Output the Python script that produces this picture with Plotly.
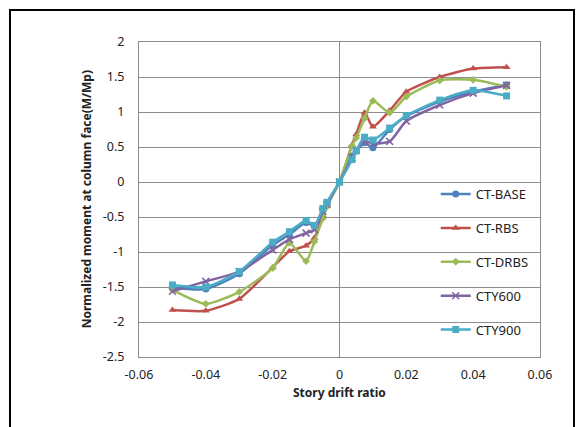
import plotly.graph_objects as go

drift = [-0.05, -0.04, -0.03, -0.02, -0.015, -0.01, -0.0075, -0.005, -0.00375, 0,
         0.00375, 0.005, 0.0075, 0.01, 0.015, 0.02, 0.03, 0.04, 0.05]

ct_base = [-1.51, -1.53, -1.31, -0.90, -0.75, -0.58, -0.63, -0.39, -0.30, 0,
           0.37, 0.44, 0.56, 0.49, 0.75, 0.94, 1.15, 1.29, 1.39]
ct_rbs = [-1.83, -1.84, -1.67, -1.22, -0.99, -0.91, -0.80, -0.48, -0.30, 0,
          0.53, 0.68, 0.99, 0.79, 1.02, 1.29, 1.50, 1.62, 1.64]
ct_drbs = [-1.54, -1.74, -1.57, -1.23, -0.87, -1.13, -0.85, -0.52, -0.35, 0,
           0.52, 0.63, 0.91, 1.16, 0.99, 1.22, 1.45, 1.46, 1.36]
cty600 = [-1.56, -1.42, -1.28, -0.97, -0.82, -0.73, -0.68, -0.42, -0.32, 0,
          0.35, 0.45, 0.58, 0.55, 0.58, 0.87, 1.10, 1.27, 1.38]
cty900 = [-1.47, -1.50, -1.28, -0.86, -0.71, -0.55, -0.62, -0.38, -0.29, 0,
          0.32, 0.45, 0.64, 0.60, 0.77, 0.95, 1.17, 1.31, 1.23]

series_names = ["CT-BASE", "CT-RBS", "CT-DRBS", "CTY600", "CTY900"]
series_values = [ct_base, ct_rbs, ct_drbs, cty600, cty900]

x_tickvals = [-0.06, -0.04, -0.02, 0, 0.02, 0.04, 0.06]
x_ticktext = ["-0.06", "-0.04", "-0.02", "0", "0.02", "0.04", "0.06"]
y_tickvals = [2, 1.5, 1, 0.5, 0, -0.5, -1, -1.5, -2, -2.5]
y_ticktext = ["2", "1.5", "1", "0.5", "0", "-0.5", "-1", "-1.5", "-2", "-2.5"]

x_title = "Story drift ratio"
y_title = "Normalized moment at column face(M/Mp)"

colors = ["#4F81BD", "#C0504D", "#9BBB59", "#8064A2", "#4BACC6"]
symbols = ["circle", "triangle-up", "diamond", "x-thin", "square"]
sizes = [7, 7, 6, 7, 7]

fig = go.Figure()
for i, (name, vals) in enumerate(zip(series_names, series_values)):
    marker = dict(symbol=symbols[i], size=sizes[i], color=colors[i])
    if symbols[i] == "x-thin":
        marker["line"] = dict(color=colors[i], width=1.5)
    fig.add_trace(go.Scatter(
        x=drift, y=vals, name=name, mode="lines+markers",
        line=dict(color=colors[i], width=2.5, shape="spline", smoothing=0.6),
        marker=marker, legendgroup=name,
    ))

grid = "#8C8C8C"
fig.update_layout(
    width=575, height=419,
    margin=dict(l=131, r=43, t=34, b=70),
    paper_bgcolor="white", plot_bgcolor="white",
    font=dict(family="Noto Sans, DejaVu Sans, sans-serif", size=12, color="#222222"),
    showlegend=True,
    legend=dict(x=0.74, xanchor="left", y=0.565, yanchor="top",
                traceorder="grouped", tracegroupgap=14,
                bgcolor="rgba(0,0,0,0)", font=dict(size=13, color="#222222")),
    xaxis=dict(range=[-0.06, 0.06], tickvals=x_tickvals, ticktext=x_ticktext,
               showgrid=False, zeroline=True, zerolinecolor=grid, zerolinewidth=1,
               showline=True, linecolor=grid, linewidth=1, mirror=True,
               ticks="outside", ticklen=6, tickcolor="rgba(0,0,0,0)",
               tickfont=dict(size=12.5)),
    yaxis=dict(range=[-2.5, 2], tickvals=y_tickvals, ticktext=y_ticktext,
               showgrid=True, gridcolor=grid, gridwidth=1, zeroline=False,
               showline=True, linecolor=grid, linewidth=1, mirror=True,
               ticks="outside", ticklen=11, tickcolor="rgba(0,0,0,0)",
               tickfont=dict(size=12.5)),
    annotations=[
        dict(text="<b>" + x_title + "</b>", xref="paper", yref="paper",
             x=0.5, y=-0.114, xanchor="center", yanchor="middle",
             showarrow=False, font=dict(size=12)),
        dict(text="<b>" + y_title + "</b>", xref="paper", yref="paper",
             x=-0.13, y=0.5, xanchor="center", yanchor="middle", textangle=-90,
             showarrow=False, font=dict(size=12)),
    ],
    shapes=[dict(type="rect", xref="paper", yref="paper",
                 x0=-0.3217, x1=1.0848, y0=-0.3, y1=1.1016,
                 line=dict(color="black", width=2), fillcolor="rgba(0,0,0,0)",
                 layer="below")],
)

fig.write_html("out.html")
